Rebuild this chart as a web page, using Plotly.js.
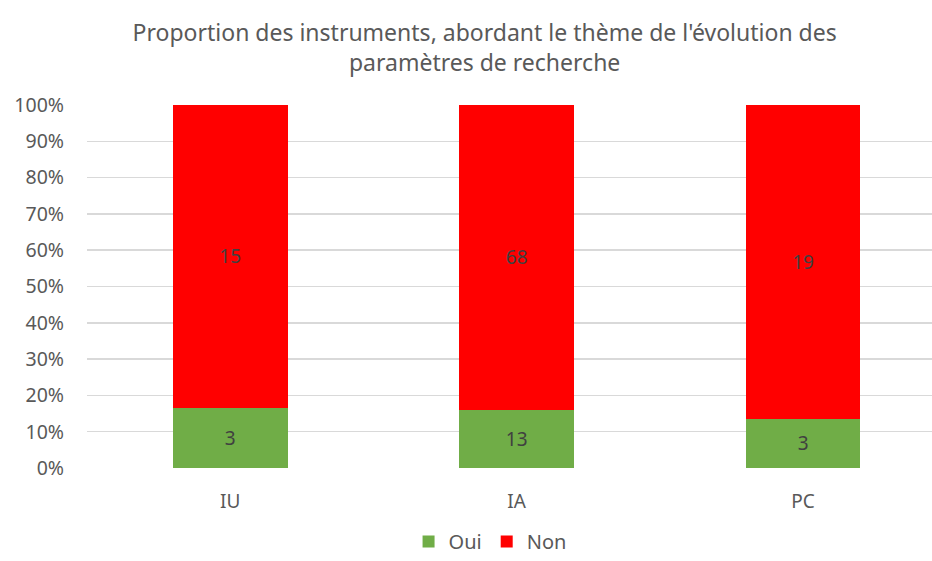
<!DOCTYPE html>
<html><head><meta charset="utf-8">
<script src="https://cdn.plot.ly/plotly-3.0.1.min.js"></script>
<style>body{margin:0;background:#fff}#c{width:932px;height:561px}</style>
</head><body><div id="c"></div>
<script>
const categories = ["IU", "IA", "PC"];
const oui = [3, 13, 3];
const non = [15, 68, 19];
const yTicks = [0, 0.1, 0.2, 0.3, 0.4, 0.5, 0.6, 0.7, 0.8, 0.9, 1];
const yTickLabels = ["0%", "10%", "20%", "30%", "40%", "50%", "60%", "70%", "80%", "90%", "100%"];

const totals = oui.map((v, i) => v + non[i]);
const font = "Noto Sans, Open Sans, Liberation Sans, sans-serif";

const traces = [
  {type: "bar", name: "Oui", x: categories, y: oui.map((v, i) => v / totals[i]),
   text: oui.map(String), textposition: "inside", insidetextanchor: "middle",
   textfont: {color: "#404040", size: 19, family: font},
   marker: {color: "#70ad47"}, width: 0.4, hoverinfo: "skip"},
  {type: "bar", name: "Non", x: categories, y: non.map((v, i) => v / totals[i]),
   text: non.map(String), textposition: "inside", insidetextanchor: "middle",
   textfont: {color: "#404040", size: 19, family: font},
   marker: {color: "#ff0000"}, width: 0.4, hoverinfo: "skip"}
];

const layout = {
  width: 932, height: 561,
  barmode: "stack",
  paper_bgcolor: "#fff", plot_bgcolor: "#fff",
  margin: {l: 87, r: 0, t: 105, b: 93, autoexpand: false},
  font: {family: font, color: "#595959", size: 19},
  title: {text: "Proportion des instruments, abordant le thème de l'évolution des<br>paramètres de recherche",
          x: 0.52, xanchor: "center", yref: "container", y: 0.927, yanchor: "middle",
          font: {size: 23, color: "#595959", family: font}},
  xaxis: {type: "category", range: [-0.5, 2.45], showgrid: false, showline: false, zeroline: false,
          ticks: "", ticklabelstandoff: 20, tickfont: {size: 19, color: "#595959"}},
  yaxis: {range: [0, 1], tickvals: yTicks, ticktext: yTickLabels, showgrid: true,
          gridcolor: "#d9d9d9", gridwidth: 1.5, zeroline: false, showline: false,
          ticks: "", ticklabelstandoff: 22, tickfont: {size: 19.5, color: "#595959"}},
  legend: {orientation: "h", x: 0.477, xanchor: "center", yref: "container", y: 0, yanchor: "bottom",
           font: {size: 20, color: "#595959"}, itemwidth: 30, traceorder: "normal"},
  showlegend: true
};

Plotly.newPlot("c", traces, layout, {displayModeBar: false, staticPlot: true});
</script></body></html>
